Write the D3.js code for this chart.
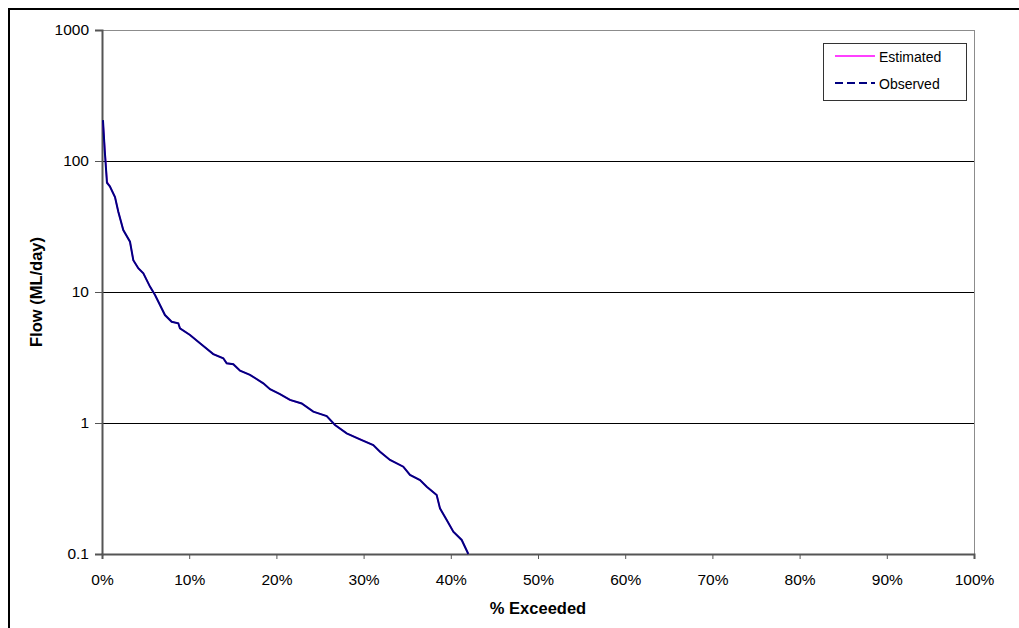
<!DOCTYPE html>
<html>
<head>
<meta charset="utf-8">
<script src="https://cdn.jsdelivr.net/npm/d3@7"></script>
<style>
  body { margin: 0; background: #fff; }
  svg { display: block; font-family: "Liberation Sans", Arial, sans-serif; }
</style>
</head>
<body>
<svg id="chart" width="1019" height="628"></svg>
<script>
// ---- Data ----
const pctExceeded = [0.11, 0.31, 0.57, 0.9, 1.49, 1.87, 2.44, 3.21, 3.59, 4.16, 4.74, 5.50, 6.08, 6.65, 7.22, 7.99, 8.75, 8.94, 10.09, 11.24, 12.76, 13.91, 14.30, 15.06, 15.83, 16.97, 18.50, 19.27, 20.41, 21.56, 22.90, 24.23, 25.77, 26.72, 28.06, 29.59, 31.11, 31.88, 33.03, 34.55, 35.32, 36.47, 37.24, 38.38, 38.76, 39.53, 40.29, 41.25, 42.01];
const observedFlow = [205, 121, 68, 64, 53, 41, 29.7, 24.2, 17.5, 15.2, 13.9, 11.0, 9.49, 7.96, 6.67, 5.93, 5.77, 5.28, 4.70, 4.06, 3.36, 3.12, 2.86, 2.81, 2.51, 2.33, 2.01, 1.81, 1.66, 1.50, 1.41, 1.22, 1.13, 0.966, 0.834, 0.751, 0.679, 0.604, 0.522, 0.464, 0.401, 0.367, 0.326, 0.282, 0.223, 0.182, 0.148, 0.128, 0.1];
const estimatedFlow = [200, 126, 70, 64, 53, 41, 29.7, 24.2, 17.5, 15.2, 13.9, 11.0, 9.49, 7.96, 6.67, 5.93, 5.77, 5.28, 4.70, 4.06, 3.36, 3.12, 2.86, 2.81, 2.51, 2.33, 2.01, 1.81, 1.66, 1.50, 1.41, 1.22, 1.13, 0.966, 0.834, 0.751, 0.679, 0.604, 0.522, 0.464, 0.401, 0.367, 0.326, 0.282, 0.223, 0.182, 0.148, 0.128, 0.1];
const yTicks = [0.1, 1, 10, 100, 1000];
const yTickLabels = ["0.1", "1", "10", "100", "1000"];
const xTicks = [0, 10, 20, 30, 40, 50, 60, 70, 80, 90, 100];
const seriesNames = ["Estimated", "Observed"];

// ---- Layout ----
const svg = d3.select("#chart");
const plotL = 102, plotR = 974, plotT = 30, plotB = 554;
const tickFont = 15.5, titleFont = 16.5, legendFont = 14;

const x = d3.scaleLinear().domain([0, 100]).range([plotL, plotR]);
const y = d3.scaleLog().domain([0.1, 1000]).range([plotB, plotT]);

// outer frame (top and left edges visible)
svg.append("line").attr("x1", 8).attr("x2", 1019).attr("y1", 9).attr("y2", 9)
  .attr("stroke", "#000").attr("stroke-width", 2);
svg.append("line").attr("x1", 9).attr("x2", 9).attr("y1", 8).attr("y2", 628)
  .attr("stroke", "#000").attr("stroke-width", 2);

// gridlines
svg.append("g").selectAll("line").data(yTicks.filter(d => d > 0.1 && d < 1000)).join("line")
  .attr("x1", plotL).attr("x2", plotR)
  .attr("y1", d => Math.round(y(d)) + 0.5).attr("y2", d => Math.round(y(d)) + 0.5)
  .attr("stroke", "#000").attr("stroke-width", 1);

// plot border top & right
svg.append("line").attr("x1", plotL).attr("x2", plotR).attr("y1", plotT + 0.5).attr("y2", plotT + 0.5)
  .attr("stroke", "#8c8c8c").attr("stroke-width", 1);
svg.append("line").attr("x1", plotR + 0.5).attr("x2", plotR + 0.5).attr("y1", plotT).attr("y2", plotB)
  .attr("stroke", "#8c8c8c").attr("stroke-width", 1);

// y axis
const yAxis = d3.axisLeft(y).tickValues(yTicks)
  .tickFormat((d, i) => yTickLabels[i]).tickSizeOuter(0).tickSize(7).tickPadding(6);
const gy = svg.append("g").attr("transform", `translate(${plotL},0)`).call(yAxis);
gy.select(".domain").attr("stroke", "#555").attr("stroke-width", 2);
gy.selectAll(".tick line").attr("stroke", "#555");
gy.selectAll(".tick text").attr("font-size", tickFont).attr("fill", "#000")
  .attr("font-family", "Liberation Sans, Arial, sans-serif");

// x axis
const xAxis = d3.axisBottom(x).tickValues(xTicks).tickFormat(d => d + "%")
  .tickSizeOuter(0).tickSize(5).tickPadding(15);
const gx = svg.append("g").attr("transform", `translate(0,${plotB})`).call(xAxis);
gx.select(".domain").attr("stroke", "#555").attr("stroke-width", 2);
gx.selectAll(".tick line").attr("stroke", "#555");
gx.selectAll(".tick text").attr("font-size", tickFont).attr("fill", "#000")
  .attr("font-family", "Liberation Sans, Arial, sans-serif");

// lines
const lineGen = (vals) => d3.line()
  .x((d, i) => x(pctExceeded[i]))
  .y((d) => y(d))(vals);

svg.append("path").attr("d", lineGen(estimatedFlow))
  .attr("fill", "none").attr("stroke", "#ff00ff").attr("stroke-width", 1.5);
svg.append("path").attr("d", lineGen(observedFlow))
  .attr("fill", "none").attr("stroke", "#000080").attr("stroke-width", 2);

// axis titles
svg.append("text").attr("x", (plotL + plotR) / 2).attr("y", 614)
  .attr("text-anchor", "middle").attr("font-size", titleFont).attr("font-weight", "bold")
  .text("% Exceeded");
svg.append("text").attr("transform", `translate(42,${(plotT + plotB) / 2}) rotate(-90)`)
  .attr("text-anchor", "middle").attr("font-size", titleFont).attr("font-weight", "bold")
  .text("Flow (ML/day)");

// legend
const lg = svg.append("g");
lg.append("rect").attr("x", 823.5).attr("y", 43.5).attr("width", 143).attr("height", 57)
  .attr("fill", "#fff").attr("stroke", "#333").attr("stroke-width", 1);
const legendStyles = [
  {stroke: "#ff00ff", width: 1.5, dash: null},
  {stroke: "#000080", width: 2, dash: "8,4"}
];
seriesNames.forEach((name, i) => {
  const ly = 56 + i * 27;
  lg.append("line").attr("x1", 835).attr("x2", 875).attr("y1", ly).attr("y2", ly)
    .attr("stroke", legendStyles[i].stroke).attr("stroke-width", legendStyles[i].width)
    .attr("stroke-dasharray", legendStyles[i].dash);
  lg.append("text").attr("x", 879).attr("y", ly + 5.5).attr("font-size", legendFont).text(name);
});
</script>
</body>
</html>
